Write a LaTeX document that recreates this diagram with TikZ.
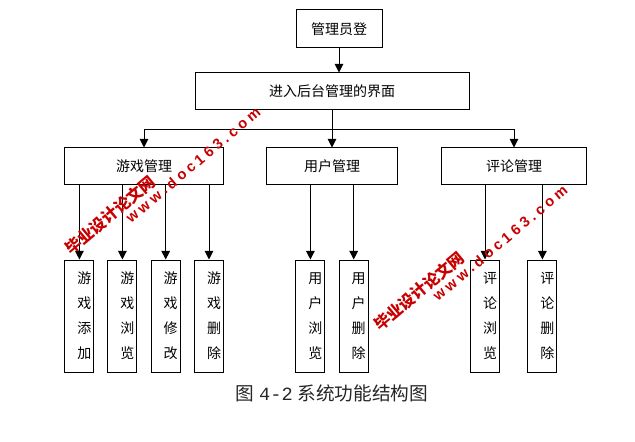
\documentclass[tikz,border=0pt]{standalone}
\usepackage{fontspec}
\setmainfont{Noto Sans CJK SC}
\newfontfamily\urlfont[LetterSpace=25]{Liberation Sans}
\newfontfamily\capmono{Liberation Mono}
\usetikzlibrary{arrows.meta}

\begin{document}
\begin{tikzpicture}[x=0.75pt,y=-0.75pt,
  box/.style={draw,line width=0.75pt,inner sep=0pt,font=\fontsize{10.5}{12}\selectfont},
  leaftext/.style={xshift=3.75pt,align=center,font=\fontsize{10.5}{18.75}\selectfont},
  leaf/.style={box,minimum width=21.75pt,minimum height=84pt,label={[leaftext]center:#1}},
  link/.style={line width=0.75pt,-{Triangle[length=6.5pt,width=6.5pt]}},
  wmark/.style={text=red!78!black,inner sep=0pt,rotate=40}]
  \useasboundingbox (0,0) rectangle (635,442);

  % top of the tree
  \node[box,minimum width=64.5pt,minimum height=28.5pt] (admin) at (339,29) {管理员登};
  \node[box,minimum width=205.5pt,minimum height=27.75pt] (backend) at (332,91.5) {进入后台管理的界面};
  \coordinate (split) at (332,129.5);

  % second level
  \node[box,minimum width=119.25pt,minimum height=27.75pt] (game) at (144,166.5) {游戏管理};
  \node[box,minimum width=98pt,minimum height=27.75pt] (user) at (332,166.5) {用户管理};
  \node[box,minimum width=108.25pt,minimum height=27.75pt] (comment) at (514,166.5) {评论管理};

  % leaves
  \node[leaf={游\\戏\\添\\加}] (gadd) at (79.4,316) {};
  \node[leaf={游\\戏\\浏\\览}] (gview) at (122.4,316) {};
  \node[leaf={游\\戏\\修\\改}] (gedit) at (165.7,316) {};
  \node[leaf={游\\戏\\删\\除}] (gdel) at (209,316) {};
  \node[leaf={用\\户\\浏\\览}] (uview) at (310.4,316) {};
  \node[leaf={用\\户\\删\\除}] (udel) at (353.7,316) {};
  \node[leaf={评\\论\\浏\\览}] (cview) at (485,316) {};
  \node[leaf={评\\论\\删\\除}] (cdel) at (542.4,316) {};

  \draw[link] (admin.south) -- (admin.south |- backend.north);
  \draw[line width=0.75pt] (backend.south) -- (split);
  \draw[line width=0.75pt] (split -| game) -- (split -| comment);
  \draw[link] (split -| game) -- (game);
  \draw[link] (split) -- (user);
  \draw[link] (split -| comment) -- (comment);

  \draw[link] (game.south -| gadd) -- (gadd);
  \draw[link] (game.south -| gview) -- (gview);
  \draw[link] (game.south -| gedit) -- (gedit);
  \draw[link] (game.south -| gdel) -- (gdel);
  \draw[link] (user.south -| uview) -- (uview);
  \draw[link] (user.south -| udel) -- (udel);
  \draw[link] (comment.south -| cview) -- (cview);
  \draw[link] (comment.south -| cdel) -- (cdel);

  \node[font=\fontsize{14}{16}\selectfont,text=black!85] (caption) at (332,393) {图\hspace{3.5pt}{\capmono 4-2}\hspace{3.5pt}系统功能结构图};

  % watermarks
  \node[wmark,font=\bfseries\fontsize{12}{13}\selectfont] (wmname) at (110,215) {毕业设计论文网};
  \node[wmark,font=\urlfont\bfseries\fontsize{11}{12}\selectfont] (wmurl) at (193,165) {www.doc163.com};
  \node[wmark,font=\bfseries\fontsize{12}{13}\selectfont] (wmnametwo) at (419,291) {毕业设计论文网};
  \node[wmark,font=\urlfont\bfseries\fontsize{11}{12}\selectfont] (wmurltwo) at (500,243) {www.doc163.com};
\end{tikzpicture}
\end{document}
